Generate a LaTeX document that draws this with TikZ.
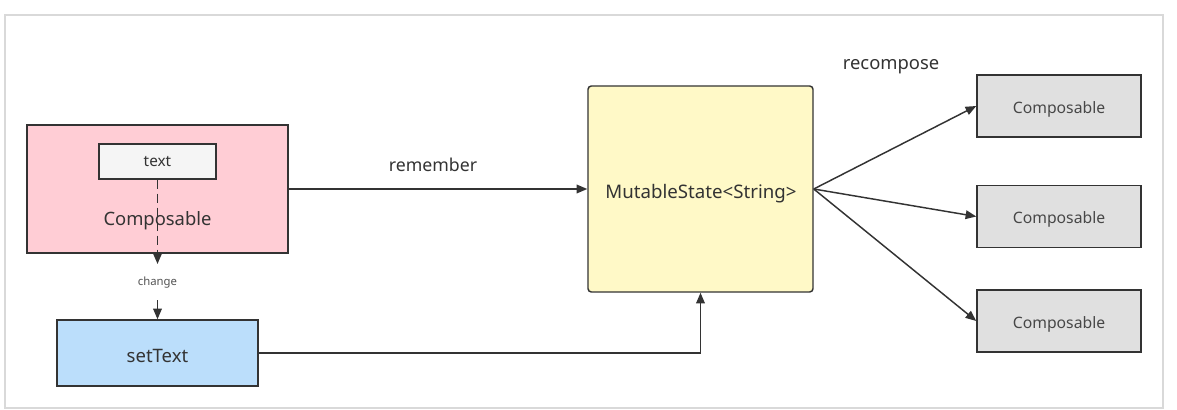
\documentclass[tikz,border=0pt]{standalone}
\usepackage{fontspec}
\setmainfont{Noto Sans}
\usetikzlibrary{arrows.meta}
\definecolor{pinkfill}{RGB}{255,205,213}
\definecolor{yellowfill}{RGB}{255,249,199}
\definecolor{bluefill}{RGB}{187,222,251}
\definecolor{greyfill}{RGB}{224,224,224}
\definecolor{textfill}{RGB}{245,245,245}
\definecolor{edge}{RGB}{51,51,51}
\definecolor{ink}{RGB}{51,51,51}
\definecolor{frame}{RGB}{217,217,217}
\tikzset{
  box/.style 2 args={draw=edge, line width=1.1pt, inner sep=0pt,
    minimum width=#1*0.75pt, minimum height=#2*0.75pt, text=ink},
  conn/.style={draw=edge, line width=1.1pt, -{Triangle[length=8pt,width=6.5pt]}},
  lbl/.style={text=ink, inner sep=0pt},
  greybox/.style={box={164}{62}, fill=greyfill},
  greylbl/.style={lbl, font=\fontsize{11.8}{14}\selectfont, text=ink!90},
}
\begin{document}
\begin{tikzpicture}[x=0.75pt,y=-0.75pt]
\useasboundingbox (0,0) rectangle (1177,410);
\draw[frame, line width=0.9pt] (5,15) rectangle (1163,408);

% left side
\node[box={261}{128}, fill=pinkfill] (pink) at (157.5,189) {};
\node[lbl, font=\fontsize{13.8}{16}\selectfont] (pinklbl) at (157.5,221) {Composable};
\node[box={117}{35}, fill=textfill, line width=0.8pt, font=\fontsize{11.5}{13}\selectfont] (txt) at (157.5,161.5) {text};
\node[box={201}{66}, fill=bluefill] (set) at (157.5,353) {};
\node[lbl, font=\fontsize{13.9}{16}\selectfont] (setlbl) at (157.5,356) {setText};

\coordinate (d1) at (157.5,264);
\coordinate (d2) at (157.5,300);
\node[lbl, text=ink!85, font=\fontsize{8.5}{10}\selectfont] (chg) at (157.5,283) {change};
\draw[conn, dash pattern=on 7pt off 3.5pt] (txt.south) -- (d1);
\draw[conn] (d2) -- (set.north);

% MutableState
\node[box={225}{206}, fill=yellowfill, rounded corners=2.5pt] (ms) at (700.5,189) {};
\node[lbl, font=\fontsize{14}{16}\selectfont] (mslbl) at (701,194) {MutableState<String>};

\draw[conn] (pink.east) -- (ms.west);
\node[lbl, font=\fontsize{13.3}{15}\selectfont] (rem) at (433,165) {remember};
\draw[conn] (set.east) -| (ms.south);

% right side
\node[greybox] (c1) at (1059,106) {};
\node[greybox] (c2) at (1059,216.5) {};
\node[greybox] (c3) at (1059,321) {};
\node[greylbl] (c1l) at (1059,109) {Composable};
\node[greylbl] (c2l) at (1059,219.5) {Composable};
\node[greylbl] (c3l) at (1059,324) {Composable};
\node[lbl, font=\fontsize{13.8}{16}\selectfont] (rec) at (891,67) {recompose};

\coordinate (src) at (ms.east);
\draw[conn] (src) -- (c1.west);
\draw[conn] (src) -- (c2.west);
\draw[conn] (src) -- (c3.west);
\end{tikzpicture}
\end{document}
